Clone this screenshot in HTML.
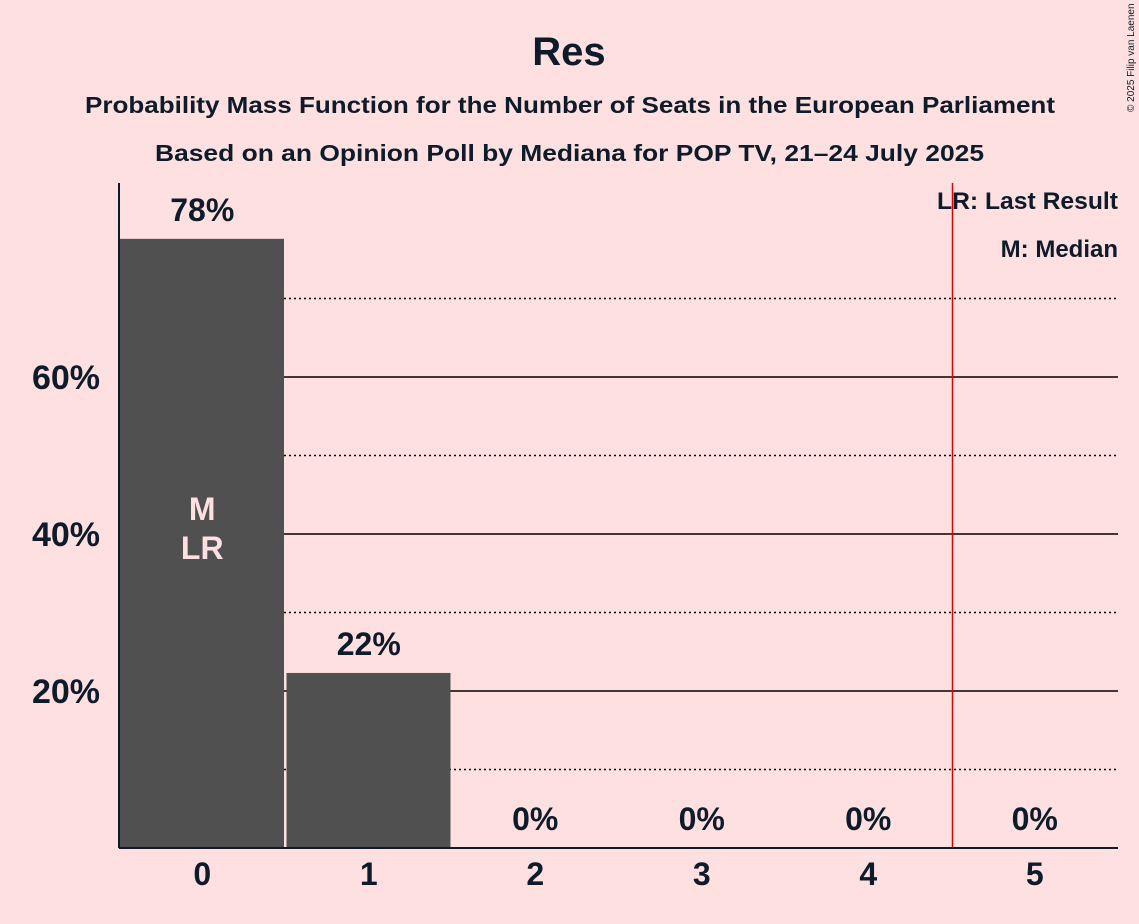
<!DOCTYPE html>
<html><head><meta charset="utf-8"><style>
body{margin:0;background:#FFE0E0;font-family:"Liberation Sans",sans-serif}
svg{display:block}
text{font-family:"Liberation Sans",sans-serif;font-weight:bold;fill:#0d1b2a}
</style></head><body>
<svg id="c" width="1139" height="924">
<rect width="1139" height="924" fill="#FFE0E0"/>
<text x="569" y="65" text-anchor="middle" font-size="40">Res</text>
<text x="85" y="113" font-size="23" textLength="970" lengthAdjust="spacingAndGlyphs">Probability Mass Function for the Number of Seats in the European Parliament</text>
<text x="155" y="161" font-size="23" textLength="829" lengthAdjust="spacingAndGlyphs">Based on an Opinion Poll by Mediana for POP TV, 21–24 July 2025</text>
<text x="1134" y="112" font-size="10" transform="rotate(-90 1134 112)" style="font-weight:normal">© 2025 Filip van Laenen</text>
<g id="grid"></g><g id="bars"></g><g id="axes"></g>
<text x="1118" y="209" text-anchor="end" font-size="24" textLength="181" lengthAdjust="spacingAndGlyphs">LR: Last Result</text>
<text x="1118" y="257" text-anchor="end" font-size="24">M: Median</text>
</svg>
<script>
const categories=[0,1,2,3,4,5];
const probs=[77.6,22.3,0,0,0,0];
const labels=["78%","22%","0%","0%","0%","0%"];
const yTicks=[20,40,60];
const yMinor=[10,30,50,70];
const lastResult=0, median=0, redLineAt=4.5;
const NS="http://www.w3.org/2000/svg";
const L=119,R=1118,B=848,step=(R-L)/6;
const x=i=>L+i*step, y=v=>B-v*7.85;
function mk(t,a,p){const e=document.createElementNS(NS,t);for(const k in a)e.setAttribute(k,a[k]);(p||document.getElementById('c')).appendChild(e);return e;}
const g=document.getElementById('grid'),b=document.getElementById('bars'),ax=document.getElementById('axes');
yMinor.forEach(v=>{const e=mk('line',{x1:L,x2:R,y1:y(v),y2:y(v),stroke:'#000','stroke-width':1.5,'stroke-dasharray':'2,3'},g);

});
yTicks.forEach(v=>{const e=mk('line',{x1:L,x2:R,y1:y(v),y2:y(v),stroke:'#000','stroke-width':1.5},g);


const t=mk('text',{x:100,y:y(v)+12,'text-anchor':'end','font-size':34},ax);t.textContent=v+'%';

});
categories.forEach((c,i)=>{
 if(probs[i]>0){const r=mk('rect',{x:x(i)+1,y:y(probs[i]),width:step-2.5,height:B-y(probs[i]),fill:'#505050'},b);
 
 }
 const t=mk('text',{x:x(i)+step/2,y:(probs[i]>0?y(probs[i])-18:B-18),'text-anchor':'middle','font-size':32},b);t.textContent=labels[i];
 
 
 const xt=mk('text',{x:x(i)+step/2,y:885,'text-anchor':'middle','font-size':32},ax);xt.textContent=c;
 
 
});
const m=mk('text',{x:x(median)+step/2,y:520,'text-anchor':'middle','font-size':32,style:'fill:#FFE0E0'},b);m.textContent='M';


const lr=mk('text',{x:x(lastResult)+step/2,y:559,'text-anchor':'middle','font-size':32,style:'fill:#FFE0E0'},b);lr.textContent='LR';


const rl=mk('line',{x1:x(redLineAt+0.5)+1,x2:x(redLineAt+0.5)+1,y1:183,y2:B,stroke:'#e00000','stroke-width':1.5},ax);


const ya=mk('line',{x1:L,x2:L,y1:183,y2:B,stroke:'#0d1b2a','stroke-width':2},ax);


const xa=mk('line',{x1:L,x2:R,y1:B,y2:B,stroke:'#0d1b2a','stroke-width':2},ax);


</script>
</body></html>
